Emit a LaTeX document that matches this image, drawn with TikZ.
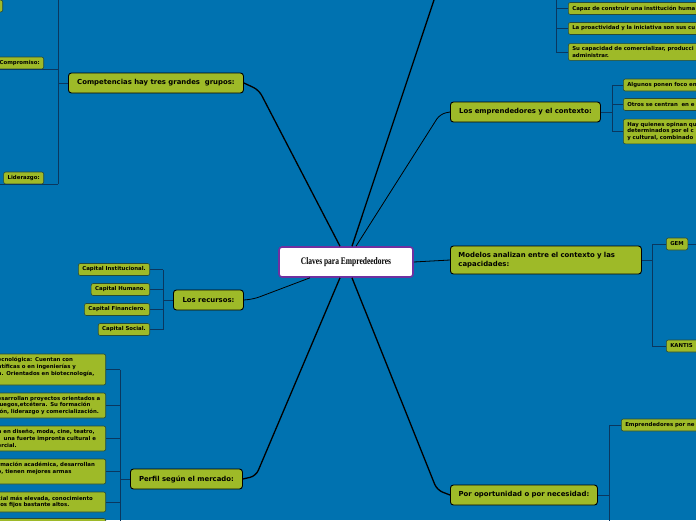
\documentclass[tikz,border=0pt]{standalone}
\usepackage{fontspec}
\setmainfont{DejaVu Sans}
\newfontfamily\titlefont[FakeStretch=0.75]{Liberation Serif}
\usetikzlibrary{positioning}

\definecolor{mapbg}{RGB}{0,114,176}
\definecolor{leaf}{RGB}{158,186,40}
\definecolor{leafline}{RGB}{40,75,55}
\definecolor{twigblue}{RGB}{10,55,95}
\definecolor{titlepurple}{RGB}{112,48,160}
\newcommand\topicsize{\fontsize{6.9}{8.5}\selectfont\bfseries}
\newcommand\leafsize{\fontsize{5.4}{6.7}\selectfont\bfseries}

\begin{document}
\begin{tikzpicture}[x=1pt,y=-1pt,
  topic/.style={draw=black,line width=0.9pt,fill=leaf,rounded corners=3pt,minimum height=20pt,inner xsep=7pt,font=\topicsize,anchor=west},
  leafbox/.style={draw=leafline,line width=0.6pt,fill=leaf,rounded corners=2pt,minimum height=12pt,inner xsep=4pt,inner ysep=3pt,font=\leafsize,align=left},
  branch/.style={draw=black,line width=1.3pt,rounded corners=6pt},
  thinbranch/.style={draw=black,line width=0.8pt,rounded corners=6pt},
  twig/.style={draw=twigblue,line width=0.9pt}]
\useasboundingbox (0,0) rectangle (696,520);
\clip (0,0) rectangle (696,520);
\fill[mapbg] (0,0) rectangle (696,520);

% centre
\node[draw=titlepurple,line width=1.6pt,fill=white,rounded corners=3pt,minimum width=134pt,minimum height=30pt,font=\titlefont\fontsize{10}{12}\selectfont\bfseries] (title) at (346,262) {Claves para Empredeedores};

% main topics
\node[topic,minimum width=175pt] (comp) at (68,83) {Competencias hay tres grandes~ grupos:};
\node[topic,minimum width=150pt] (ctx) at (450,112) {Los emprendedores y el contexto:};
\node[topic,minimum width=191pt,minimum height=28pt,align=left,text width=175pt] (models) at (450,260) {Modelos analizan entre el contexto y las\\capacidades:};
\node[topic,minimum width=70pt] (rec) at (173,300) {Los recursos:};
\node[topic,minimum width=112pt] (perfil) at (130,479) {Perfil según el mercado:};
\node[topic,minimum width=147pt] (oport) at (450,495) {Por oportunidad o por necesidad:};
\coordinate (topend) at (435,-3);

\draw[branch] (comp.east) -- ++(15,7) -- ([xshift=-6pt]title.north);
\draw[branch] ([xshift=6pt]title.north) -- (topend);
\draw[thinbranch] (ctx.west) -- ++(-10,2) -- ([xshift=10pt]title.north);
\draw[thinbranch] (title.east) -- (models.west);
\draw[thinbranch] (rec.east) -- ++(10,-1) -- ([xshift=-36pt]title.south);
\draw[branch] (perfil.east) -- ++(13,-3) -- ([xshift=-6pt]title.south);
\draw[branch] (oport.west) -- ++(-13,-5) -- ([xshift=6pt]title.south);

% competencias
\coordinate (cb) at (58,83);
\node[leafbox,anchor=east,minimum width=30pt] (c0) at (3,6) {};
\node[leafbox,anchor=east] (compro) at (44,63) {Compromiso:};
\node[leafbox,anchor=east] (lider) at (44,178) {Liderazgo:};
\draw[twig] (comp.west) -- (cb);
\draw[twig] (cb |- c0.north) -- (cb |- lider.south);
\draw[twig] (compro.south west) -- (compro.south west -| cb);
\draw[twig] ([xshift=-6pt]lider.south west) -- (lider.south -| cb);

% recursos
\coordinate (rb) at (163,300);
\node[leafbox,anchor=east] (r1) at (150,269.5) {Capital Institucional.};
\node[leafbox,anchor=east] (r2) at (150,289.5) {Capital Humano.};
\node[leafbox,anchor=east] (r3) at (150,309.5) {Capital Financiero.};
\node[leafbox,anchor=east] (r4) at (150,329.5) {Capital Social.};
\draw[twig] (rec.west) -- (rb);
\foreach \n in {r1,r2,r3,r4} \draw[twig] (\n.east) -- (\n.east -| rb);
\draw[twig] (r1.east -| rb) -- (r4.east -| rb);

% perfil
\coordinate (pb) at (120,479);
\node[leafbox,anchor=east,text width=104pt,minimum height=31pt] (p1) at (106,369.5) {ecnológica: Cuentan con\\ntíficas o en ingenierías y\\n. Orientados en biotecnología,\\\mbox{}};
\node[leafbox,anchor=east,text width=104pt,minimum height=25pt] (p2) at (106,405.5) {esarrollan proyectos orientados a\\juegos,etcétera. Su formación\\ión, liderazgo y comercialización.};
\node[leafbox,anchor=east,text width=104pt,minimum height=25pt] (p3) at (106,438.5) {n en diseño, moda, cine, teatro,\\\hspace*{6pt}una fuerte impronta cultural e\\ercial.};
\node[leafbox,anchor=east,text width=104pt,minimum height=25pt] (p4) at (106,471.5) {rmación académica, desarrollan\\o, tienen mejores armas\\\mbox{}};
\node[leafbox,anchor=east,text width=104pt,minimum height=20pt] (p5) at (106,502) {cial más elevada, conocimiento\\tos fijos bastante altos.};
\node[leafbox,anchor=east,text width=104pt,minimum height=25pt] (p6) at (106,531) {};
\draw[twig] (perfil.west) -- (pb);
\foreach \n in {p1,p2,p3,p4,p5} \draw[twig] (\n.east) -- (\n.east -| pb);
\draw[twig] (p1.east -| pb) -- (p6.east -| pb);

% arriba
\coordinate (tb) at (556,0);
\node[leafbox,anchor=west,text width=200pt] (t1) at (568,8.5) {Capaz de construir una institución huma};
\node[leafbox,anchor=west,text width=200pt] (t2) at (568,28.5) {La proactividad y la iniciativa son sus cu};
\node[leafbox,anchor=west,text width=200pt] (t3) at (568,52) {Su capacidad de comercializar, producci\\administrar.};
\draw[twig] (tb |- topend) -- (tb |- t3.west);
\foreach \n in {t1,t2,t3} \draw[twig] (\n.west) -- (\n.west -| tb);

% contexto
\coordinate (xb) at (612,112);
\node[leafbox,anchor=west,text width=200pt] (x1) at (623,85) {Algunos ponen foco en};
\node[leafbox,anchor=west,text width=200pt] (x2) at (623,104.5) {Otros se centran~ en e};
\node[leafbox,anchor=west,text width=200pt] (x3) at (623,131.5) {Hay quienes opinan qu\\determinados por el c\\y cultural, combinado};
\draw[twig] (ctx.east) -- (xb);
\foreach \n in {x1,x2,x3} \draw[twig] (\n.west) -- (\n.west -| xb);
\draw[twig] (x1.west -| xb) -- (x3.west -| xb);

% modelos
\coordinate (mb) at (652,260);
\node[leafbox,anchor=west] (gem) at (666,244) {GEM};
\node[leafbox,anchor=west,text width=60pt] (kantis) at (666,346) {KANTIS};
\coordinate (gemnext) at (700,244);
\draw[twig] (models.east) -- (mb);
\draw[twig] (gem.east) -- (gemnext);
\draw[twig] (gem.west) -- (gem.west -| mb) -- (kantis.west -| mb) -- (kantis.west);

% oportunidad
\coordinate (ob) at (609,495);
\coordinate (obend) at (609,525);
\node[leafbox,anchor=west,text width=200pt] (o1) at (621,425) {Emprendedores por ne};
\draw[twig] (oport.east) -- (ob);
\draw[twig] (o1.west) -- (o1.west -| ob) -- (obend);
\end{tikzpicture}
\end{document}
